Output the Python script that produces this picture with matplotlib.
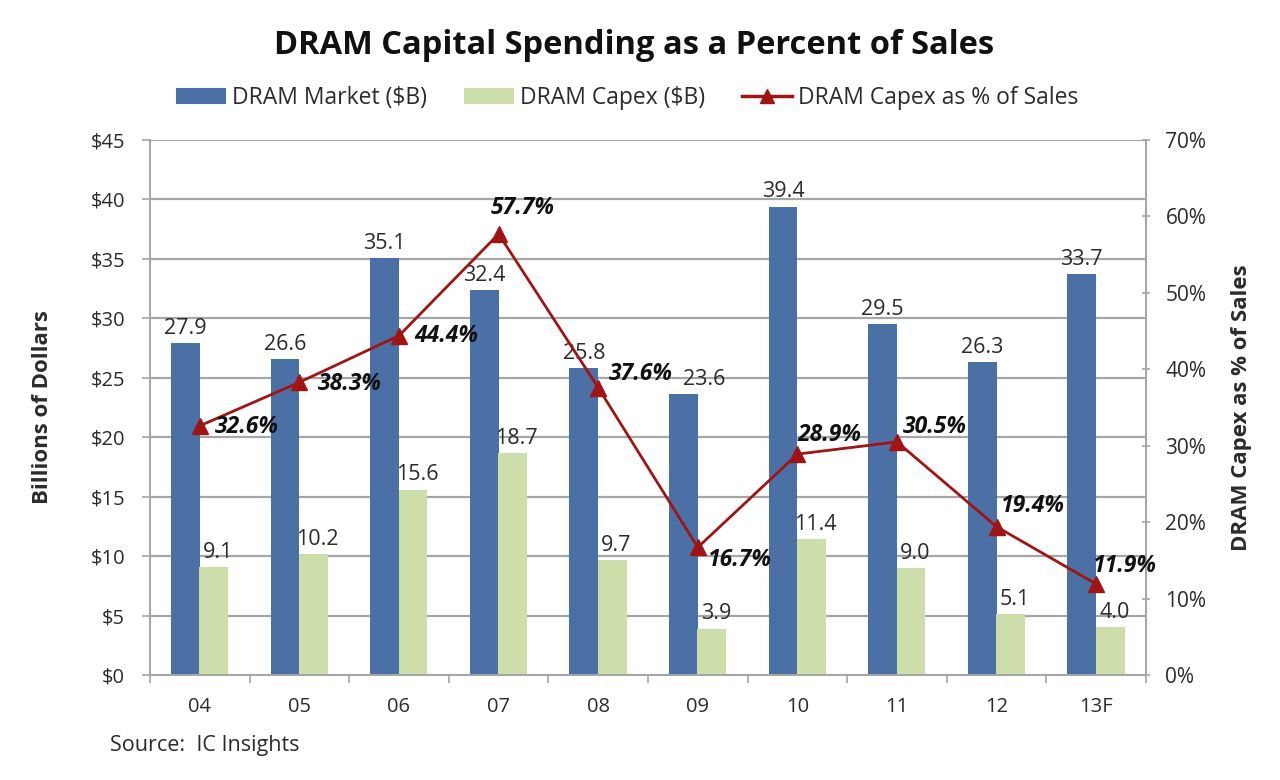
import matplotlib
matplotlib.use("Agg")
import matplotlib.pyplot as plt
import numpy as np
from matplotlib.patches import Patch
from matplotlib.lines import Line2D

categories = ["04", "05", "06", "07", "08", "09", "10", "11", "12", "13F"]
dram_market = [27.9, 26.6, 35.1, 32.4, 25.8, 23.6, 39.4, 29.5, 26.3, 33.7]
dram_capex = [9.1, 10.2, 15.6, 18.7, 9.7, 3.9, 11.4, 9.0, 5.1, 4.0]
capex_pct = [32.6, 38.3, 44.4, 57.7, 37.6, 16.7, 28.9, 30.5, 19.4, 11.9]

left_ticks = [0, 5, 10, 15, 20, 25, 30, 35, 40, 45]
right_ticks = [0, 10, 20, 30, 40, 50, 60, 70]

plt.rcParams['font.family'] = ['Open Sans', 'DejaVu Sans']

BLUE = "#4a70a6"
GREEN = "#cddeab"
RED = "#a01414"
GRID = "#a6a6a6"
TXT = "#2b2b2b"

fig = plt.figure(figsize=(12.8, 7.8), dpi=100)
ax = fig.add_axes([150 / 1280, 1 - 675 / 780, 996 / 1280, 535 / 780])
ax2 = ax.twinx()

x = np.arange(len(categories))
w = 0.29
ax.bar(x - 0.145, dram_market, w, color=BLUE, zorder=2)
ax.bar(x + 0.14, dram_capex, w, color=GREEN, zorder=2)

ax.set_xlim(-0.5, len(categories) - 0.5)
ax.set_ylim(0, 45)
ax.set_yticks(left_ticks)
ax.set_yticklabels([f"${v}" for v in left_ticks])
ax.yaxis.grid(True, color=GRID, linewidth=1.6, zorder=0)
ax.set_axisbelow(True)
ax.set_xticks(x)
ax.set_xticklabels(categories)
ax.set_xticks(np.arange(-0.5, len(categories)), minor=True)
ax.tick_params(axis='x', which='major', length=0, pad=16, labelsize=14.5, colors=TXT)
ax.tick_params(axis='x', which='minor', length=6, width=1.2, color=GRID, direction='out')
ax.tick_params(axis='y', length=6, width=1.2, color=GRID, labelsize=14.5, colors=TXT, pad=12)
ax.spines['top'].set_visible(False)
ax2.spines['top'].set_visible(False)
for s in ['left', 'bottom', 'right']:
    for a in (ax, ax2):
        a.spines[s].set_color(GRID)
        a.spines[s].set_linewidth(1.4)
ax.set_ylabel("Billions of Dollars", fontsize=16, fontweight='bold', color=TXT, labelpad=27)

ax2.set_ylim(0, 70)
ax2.set_yticks(right_ticks)
ax2.set_yticklabels([f"{v}%" for v in right_ticks])
ax2.tick_params(axis='y', length=6, width=1.2, color=GRID, labelsize=15, colors=TXT,
                direction='inout', pad=11)
ax2.set_ylabel("DRAM Capex as % of Sales", fontsize=16, fontweight='bold', color=TXT, labelpad=18)

ax2.plot(x, capex_pct, color=RED, linewidth=2, marker='^', markersize=11, zorder=5)

market_label_dx = [0, 0, 0, 0, 0, 15, 0, 0, 0, 0]
for xi, v, dx in zip(x, dram_market, market_label_dx):
    ax.annotate(f"{v:.1f}", (xi - 0.145, v), xytext=(dx, 3), textcoords='offset points',
                ha='center', va='bottom', fontsize=15.5, color=TXT)
for xi, v in zip(x, dram_capex):
    ax.annotate(f"{v:.1f}", (xi + 0.14, v), xytext=(3, 3), textcoords='offset points',
                ha='center', va='bottom', fontsize=15.5, color=TXT)

offsets = [(11, -1), (13, -1), (11, 0), (-6, 19), (8, 10), (7, -9), (0, 14), (4, 11), (3, 15), (-2, 13)]
for xi, v, (dx, dy) in zip(x, capex_pct, offsets):
    ax2.annotate(f"{v:.1f}%", (xi, v), xytext=(dx, dy), textcoords='offset points',
                 ha='left', va='center', fontsize=16.5, fontweight='bold', style='italic',
                 color='#111111', zorder=6)

fig.text(0.495, 1 - 45 / 780, "DRAM Capital Spending as a Percent of Sales", ha='center', va='center',
         fontsize=23.5, fontweight='bold', color='#111111')

handles = [Patch(facecolor=BLUE), Patch(facecolor=GREEN),
           Line2D([0], [0], color=RED, linewidth=2.5, marker='^', markersize=10)]
labels = ["DRAM Market ($B)", "DRAM Capex ($B)", "DRAM Capex as % of Sales"]
fig.legend(handles, labels, loc='center', bbox_to_anchor=(0.49, 0.874), ncol=3, frameon=False,
           fontsize=16.5, handlelength=2.2, handletextpad=0.25, columnspacing=1.6,
           labelcolor=TXT)

fig.text(0.086, 1 - 745 / 780, "Source:  IC Insights", fontsize=15.5, color=TXT, ha='left', va='center')

fig.savefig("out.png", dpi=100)
